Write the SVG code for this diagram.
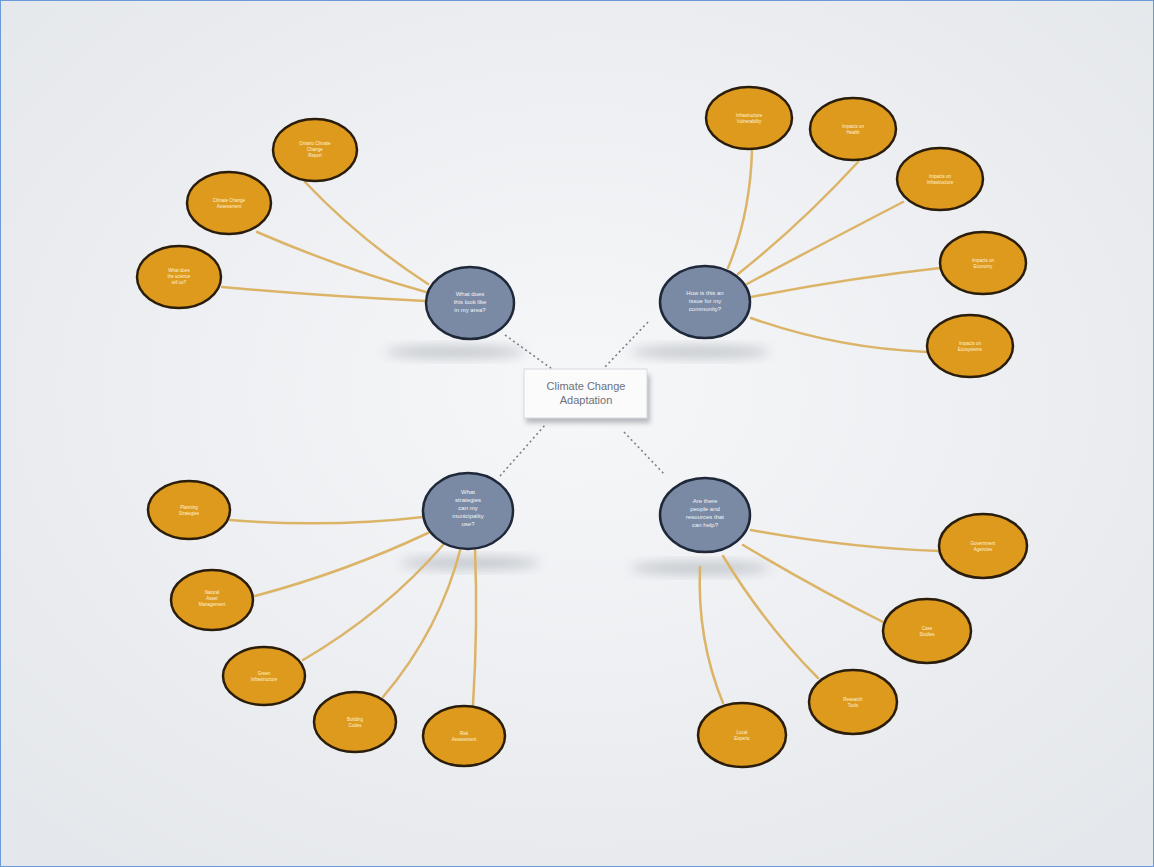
<svg xmlns="http://www.w3.org/2000/svg" width="1154" height="867" viewBox="0 0 1154 867">
<defs>
<radialGradient id="bg" cx="50%" cy="45%" r="70%">
<stop offset="0" stop-color="#f6f7f9"/>
<stop offset="1" stop-color="#e4e7eb"/>
</radialGradient>
<filter id="blur" x="-50%" y="-50%" width="200%" height="200%"><feGaussianBlur stdDeviation="6"/></filter>
<filter id="bshadow" x="-20%" y="-20%" width="140%" height="160%"><feGaussianBlur stdDeviation="2.5"/></filter>
<style>
.con{fill:none;stroke:#dcb468;stroke-width:2.5;stroke-linecap:round}
.dot{fill:none;stroke:#7a7f88;stroke-width:1.6;stroke-dasharray:2 3}
.org{fill:#de9a1c;stroke:#2a1d0c;stroke-width:2.5}
.blu{fill:#7a8aa5;stroke:#1f2838;stroke-width:2.5}
.sh{fill:#9aa0a8;opacity:0.55;filter:url(#blur)}
.ot{font-family:"Liberation Sans",Arial,sans-serif;font-size:4.5px;fill:#fff3d8;text-anchor:middle}
.bt{font-family:"Liberation Sans",Arial,sans-serif;font-size:6px;fill:#f2f4f8;text-anchor:middle}
.ct{font-family:"Liberation Sans",Arial,sans-serif;font-size:11px;fill:#6d7178;text-anchor:middle}
</style>
</defs>
<rect x="0" y="0" width="1154" height="867" fill="url(#bg)"/>
<rect x="0.5" y="0.5" width="1153" height="866" fill="none" stroke="#6a9bd8" stroke-width="1"/>

<g id="shadows">
<ellipse class="sh" cx="455" cy="352" rx="70" ry="6"/>
<ellipse class="sh" cx="700" cy="352" rx="70" ry="6"/>
<ellipse class="sh" cx="470" cy="563" rx="70" ry="6"/>
<ellipse class="sh" cx="700" cy="568" rx="70" ry="6"/>
</g>

<g id="connectors">
<path class="dot" d="M505 335 L552 369"/>
<path class="dot" d="M648 322 L604 368"/>
<path class="dot" d="M500 476 L546 424"/>
<path class="dot" d="M624 432 L665 475"/>

<path class="con" d="M305 182 Q360 240 428 284"/>
<path class="con" d="M257 232 Q340 268 426 292"/>
<path class="con" d="M222 287 Q320 296 426 301"/>

<path class="con" d="M752 151 Q750 215 728 268"/>
<path class="con" d="M858 162 Q800 225 738 274"/>
<path class="con" d="M903 202 Q820 245 747 284"/>
<path class="con" d="M940 268 Q850 278 751 297"/>
<path class="con" d="M927 352 Q835 348 751 318"/>

<path class="con" d="M230 520 Q330 528 423 517"/>
<path class="con" d="M255 596 Q345 572 428 533"/>
<path class="con" d="M303 660 Q385 612 443 545"/>
<path class="con" d="M383 697 Q440 630 461 547"/>
<path class="con" d="M473 705 Q478 625 475 548"/>

<path class="con" d="M751 530 Q850 548 940 551"/>
<path class="con" d="M743 545 Q815 588 883 622"/>
<path class="con" d="M723 556 Q765 625 818 678"/>
<path class="con" d="M700 567 Q697 640 723 703"/>
</g>

<g id="center">
<rect x="526" y="375" width="124" height="48" fill="#8c9096" opacity="0.6" filter="url(#bshadow)"/>
<rect x="524" y="369" width="123" height="49" fill="#fbfbfc" stroke="#d8dadd" stroke-width="1"/>
<text class="ct" x="586" y="390">Climate Change</text>
<text class="ct" x="586" y="404">Adaptation</text>
</g>

<g id="q1">
<ellipse class="blu" cx="470" cy="303" rx="44" ry="36"/>
<text class="bt" x="470" y="296">What does</text>
<text class="bt" x="470" y="304">this look like</text>
<text class="bt" x="470" y="312">in my area?</text>
</g>
<g id="q2">
<ellipse class="blu" cx="705" cy="302" rx="45" ry="36"/>
<text class="bt" x="705" y="295">How is this an</text>
<text class="bt" x="705" y="303">issue for my</text>
<text class="bt" x="705" y="311">community?</text>
</g>
<g id="q3">
<ellipse class="blu" cx="468" cy="511" rx="45" ry="38"/>
<text class="bt" x="468" y="494">What</text>
<text class="bt" x="468" y="502">strategies</text>
<text class="bt" x="468" y="510">can my</text>
<text class="bt" x="468" y="518">municipality</text>
<text class="bt" x="468" y="526">use?</text>
</g>
<g id="q4">
<ellipse class="blu" cx="705" cy="515" rx="45" ry="37"/>
<text class="bt" x="705" y="503">Are there</text>
<text class="bt" x="705" y="511">people and</text>
<text class="bt" x="705" y="519">resources that</text>
<text class="bt" x="705" y="527">can help?</text>
</g>

<g id="a1"><ellipse class="org" cx="315" cy="150" rx="42" ry="31"/>
<text class="ot" x="315" y="145">Ontario Climate</text><text class="ot" x="315" y="151">Change</text><text class="ot" x="315" y="157">Report</text></g>
<g id="a2"><ellipse class="org" cx="229" cy="203" rx="42" ry="31"/>
<text class="ot" x="229" y="202">Climate Change</text><text class="ot" x="229" y="208">Assessment</text></g>
<g id="a3"><ellipse class="org" cx="179" cy="277" rx="42" ry="31"/>
<text class="ot" x="179" y="272">What does</text><text class="ot" x="179" y="278">the science</text><text class="ot" x="179" y="284">tell us?</text></g>

<g id="b1"><ellipse class="org" cx="749" cy="118" rx="43" ry="31"/>
<text class="ot" x="749" y="117">Infrastructure</text><text class="ot" x="749" y="123">Vulnerability</text></g>
<g id="b2"><ellipse class="org" cx="853" cy="129" rx="43" ry="31"/>
<text class="ot" x="853" y="128">Impacts on</text><text class="ot" x="853" y="134">Health</text></g>
<g id="b3"><ellipse class="org" cx="940" cy="179" rx="43" ry="31"/>
<text class="ot" x="940" y="178">Impacts on</text><text class="ot" x="940" y="184">Infrastructure</text></g>
<g id="b4"><ellipse class="org" cx="983" cy="263" rx="43" ry="31"/>
<text class="ot" x="983" y="262">Impacts on</text><text class="ot" x="983" y="268">Economy</text></g>
<g id="b5"><ellipse class="org" cx="970" cy="346" rx="43" ry="31"/>
<text class="ot" x="970" y="345">Impacts on</text><text class="ot" x="970" y="351">Ecosystems</text></g>

<g id="c1"><ellipse class="org" cx="189" cy="510" rx="41" ry="29"/>
<text class="ot" x="189" y="509">Planning</text><text class="ot" x="189" y="515">Strategies</text></g>
<g id="c2"><ellipse class="org" cx="212" cy="600" rx="41" ry="30"/>
<text class="ot" x="212" y="594">Natural</text><text class="ot" x="212" y="600">Asset</text><text class="ot" x="212" y="606">Management</text></g>
<g id="c3"><ellipse class="org" cx="264" cy="676" rx="41" ry="29"/>
<text class="ot" x="264" y="675">Green</text><text class="ot" x="264" y="681">Infrastructure</text></g>
<g id="c4"><ellipse class="org" cx="355" cy="722" rx="41" ry="30"/>
<text class="ot" x="355" y="721">Building</text><text class="ot" x="355" y="727">Codes</text></g>
<g id="c5"><ellipse class="org" cx="464" cy="736" rx="41" ry="30"/>
<text class="ot" x="464" y="735">Risk</text><text class="ot" x="464" y="741">Assessment</text></g>

<g id="d1"><ellipse class="org" cx="983" cy="546" rx="44" ry="32"/>
<text class="ot" x="983" y="545">Government</text><text class="ot" x="983" y="551">Agencies</text></g>
<g id="d2"><ellipse class="org" cx="927" cy="631" rx="44" ry="32"/>
<text class="ot" x="927" y="630">Case</text><text class="ot" x="927" y="636">Studies</text></g>
<g id="d3"><ellipse class="org" cx="853" cy="702" rx="44" ry="32"/>
<text class="ot" x="853" y="701">Research</text><text class="ot" x="853" y="707">Tools</text></g>
<g id="d4"><ellipse class="org" cx="742" cy="735" rx="44" ry="32"/>
<text class="ot" x="742" y="734">Local</text><text class="ot" x="742" y="740">Experts</text></g>
</svg>
